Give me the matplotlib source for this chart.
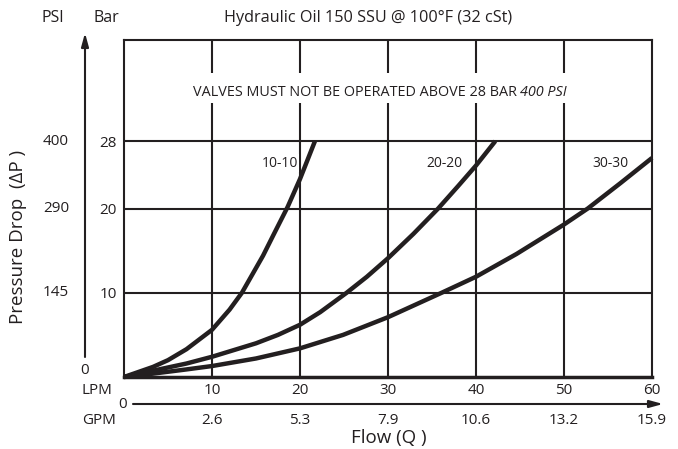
import numpy as np
import matplotlib.pyplot as plt

plt.rcParams['font.family'] = ['Open Sans', 'DejaVu Sans']

# flow (LPM) vs pressure drop (bar)
q_10 = [0, 3.3, 5, 7.1, 10, 12, 13.4, 15.8, 17, 18.6, 20, 21.7]
p_10 = [0, 1.2, 2.0, 3.3, 5.6, 8.0, 10, 14.4, 16.9, 20.2, 23.5, 28]

q_20 = [0, 3.3, 7.1, 10, 12.5, 15, 17.5, 20, 22.3, 25.3, 27.6, 30, 32.9, 35.7, 38, 40, 42.2]
p_20 = [0, 0.75, 1.6, 2.4, 3.2, 4.0, 5.0, 6.2, 7.7, 10, 11.9, 14.1, 17.0, 20, 22.7, 25.1, 28]

q_30 = [0, 3.3, 7.1, 10, 15, 20, 24.9, 30, 36.1, 40, 44.6, 50, 52.7, 56.4, 60]
p_30 = [0, 0.4, 0.9, 1.3, 2.2, 3.4, 5.0, 7.1, 10, 11.9, 14.6, 18.1, 20, 23.0, 26.0]

curve_names = ['10-10', '20-20', '30-30']
label_pos = [(17.7, 25.4), (36.4, 25.4), (55.3, 25.4)]

lpm_ticks = [10, 20, 30, 40, 50, 60]
gpm_labels = ['2.6', '5.3', '7.9', '10.6', '13.2', '15.9']
bar_ticks = [10, 20, 28]
psi_labels = ['145', '290', '400']

INK = '#231f20'
W, H = 678, 449
fig = plt.figure(figsize=(W / 100, H / 100), dpi=100)
ax = fig.add_axes([124 / W, 1 - 377 / H, (652 - 124) / W, (377 - 40) / H])

def fx(px):
    return px / W

def fy(py):
    return 1 - py / H

ax.set_xlim(0, 60)
ax.set_ylim(0, 40)
for s in ax.spines.values():
    s.set_linewidth(1.5)
    s.set_color(INK)
ax.spines['bottom'].set_linewidth(2.5)

for xv in lpm_ticks[:-1]:
    ax.axvline(xv, color=INK, lw=1.5, zorder=1)
for yv in bar_ticks:
    ax.axhline(yv, color=INK, lw=1.5, zorder=1)

for q, p in [(q_10, p_10), (q_20, p_20), (q_30, p_30)]:
    ax.plot(q, p, color=INK, lw=3.2, solid_capstyle='butt', solid_joinstyle='round',
            zorder=3, clip_on=False)

for name, (lx, ly) in zip(curve_names, label_pos):
    ax.text(lx, ly, name, ha='center', va='center', fontsize=10, color=INK,
            bbox=dict(facecolor='white', edgecolor='none', pad=1.0), zorder=4)

# white band behind the warning, breaking the vertical grid lines
ax.axhspan(32.5, 36.1, xmin=(190 - 124) / 528, xmax=(575 - 124) / 528,
           color='white', zorder=2, lw=0)
warn = ax.text(7.8, 33.8, 'VALVES MUST NOT BE OPERATED ABOVE 28 BAR ', ha='left', va='center',
               fontsize=10.4, color=INK, zorder=4)
ax.annotate('400 PSI', xy=(1, 0.5), xycoords=warn, ha='left', va='center',
            fontsize=10.4, style='italic', color=INK, zorder=4)

ax.set_yticks(bar_ticks)
ax.set_yticklabels([str(b) for b in bar_ticks])
ax.set_xticks(lpm_ticks)
ax.set_xticklabels([str(t) for t in lpm_ticks])
ax.tick_params(length=0, labelsize=11, colors=INK)
ax.tick_params(axis='y', pad=5)
ax.tick_params(axis='x', pad=4)

# PSI column
for b, lab in zip(bar_ticks, psi_labels):
    ax.annotate(lab, xy=(fx(69), b), xycoords=('figure fraction', 'data'),
                ha='right', va='center', fontsize=11, color=INK)
fig.text(fx(85), fy(370), '0', ha='center', va='center', fontsize=11, color=INK)

# GPM row
for t, lab in zip(lpm_ticks, gpm_labels):
    ax.annotate(lab, xy=(t, fy(420)), xycoords=('data', 'figure fraction'),
                ha='center', va='center', fontsize=11, color=INK)

fig.text(fx(97), fy(390), 'LPM', ha='center', va='center', fontsize=11, color=INK)
fig.text(fx(99), fy(420), 'GPM', ha='center', va='center', fontsize=11, color=INK)
fig.text(fx(123), fy(404), '0', ha='center', va='center', fontsize=11, color=INK)
fig.text(fx(53), fy(18), 'PSI', ha='center', va='center', fontsize=11.5, color=INK)
fig.text(fx(106), fy(18), 'Bar', ha='center', va='center', fontsize=11.5, color=INK)
fig.text(fx(368), fy(18), 'Hydraulic Oil 150 SSU @ 100°F (32 cSt)', ha='center', va='center',
         fontsize=11.7, color=INK)
fig.text(fx(18), fy(237), 'Pressure Drop  (ΔP )', rotation=90, ha='center', va='center',
         fontsize=13.5, color=INK)
fig.text(fx(389), fy(438), 'Flow (Q )', ha='center', va='center', fontsize=13.5, color=INK)

# axis arrows
ax.annotate('', xy=(fx(85), fy(33)), xycoords='figure fraction',
            xytext=(fx(85), fy(357)), textcoords='figure fraction',
            arrowprops=dict(arrowstyle='-|>,head_length=0.8,head_width=0.22', lw=1.5, color=INK,
                            shrinkA=0, shrinkB=0))
ax.annotate('', xy=(fx(663), fy(404)), xycoords='figure fraction',
            xytext=(fx(133), fy(404)), textcoords='figure fraction',
            arrowprops=dict(arrowstyle='-|>,head_length=0.8,head_width=0.22', lw=1.5, color=INK,
                            shrinkA=0, shrinkB=0))

fig.savefig('out.png', dpi=100)
